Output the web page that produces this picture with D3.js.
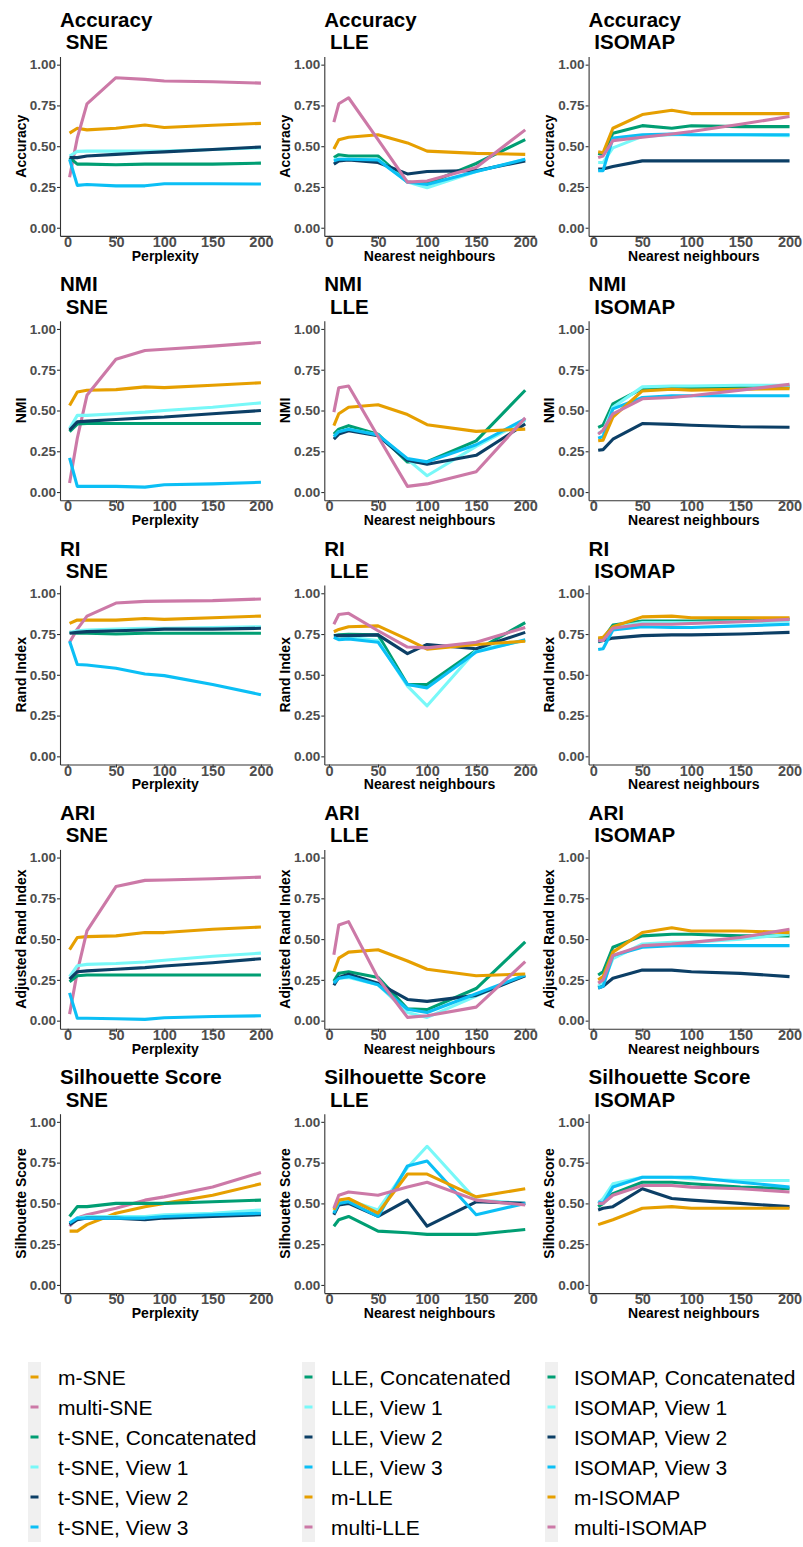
<!DOCTYPE html>
<html>
<head>
<meta charset="utf-8">
<script src="https://cdn.jsdelivr.net/npm/d3@7"></script>
<style>
    body { margin: 0; background: #fff; }
    svg { display: block; font-family: "Liberation Sans", Arial, sans-serif; }
</style>
</head>
<body>
<svg id="chart" width="803" height="1547"></svg>
<script>
// x values
const perplexity = [2, 10, 20, 50, 80, 100, 150, 200];
const neighbours = [5, 10, 20, 50, 80, 100, 150, 200];

// series names, in legend order
const sneSeries = ["m-SNE", "multi-SNE", "t-SNE, Concatenated", "t-SNE, View 1", "t-SNE, View 2", "t-SNE, View 3"];
const lleSeries = ["LLE, Concatenated", "LLE, View 1", "LLE, View 2", "LLE, View 3", "m-LLE", "multi-LLE"];
const isomapSeries = ["ISOMAP, Concatenated", "ISOMAP, View 1", "ISOMAP, View 2", "ISOMAP, View 3", "m-ISOMAP", "multi-ISOMAP"];

const metrics = ["Accuracy", "NMI", "RI", "ARI", "Silhouette Score"];
const yLabels = ["Accuracy", "NMI", "Rand Index", "Adjusted Rand Index", "Silhouette Score"];
const methods = ["SNE", "LLE", "ISOMAP"];
const xLabels = ["Perplexity", "Nearest neighbours", "Nearest neighbours"];
const xTicks = [0, 50, 100, 150, 200];
const yTicks = [0, 0.25, 0.5, 0.75, 1];

// values per series (same order as the series names above)
const accSne = [
    [0.58, 0.61, 0.60, 0.61, 0.63, 0.615, 0.628, 0.64],
    [0.31, 0.55, 0.76, 0.92, 0.91, 0.90, 0.895, 0.887],
    [0.43, 0.39, 0.39, 0.386, 0.39, 0.39, 0.39, 0.396],
    [0.44, 0.468, 0.47, 0.47, 0.47, 0.47, 0.48, 0.49],
    [0.43, 0.43, 0.44, 0.45, 0.46, 0.465, 0.48, 0.495],
    [0.42, 0.26, 0.265, 0.257, 0.257, 0.27, 0.27, 0.268]
];
const accLle = [
    [0.43, 0.448, 0.44, 0.44, 0.28, 0.27, 0.394, 0.54],
    [0.42, 0.42, 0.42, 0.42, 0.28, 0.245, 0.345, 0.42],
    [0.39, 0.41, 0.415, 0.40, 0.33, 0.345, 0.35, 0.41],
    [0.41, 0.42, 0.42, 0.415, 0.28, 0.265, 0.345, 0.42],
    [0.483, 0.54, 0.555, 0.57, 0.52, 0.47, 0.456, 0.45],
    [0.647, 0.76, 0.797, 0.54, 0.28, 0.287, 0.37, 0.60]
];
const accIso = [
    [0.456, 0.45, 0.58, 0.626, 0.61, 0.625, 0.62, 0.62],
    [0.40, 0.40, 0.49, 0.56, 0.57, 0.57, 0.57, 0.565],
    [0.36, 0.36, 0.375, 0.41, 0.41, 0.41, 0.41, 0.41],
    [0.35, 0.35, 0.55, 0.57, 0.575, 0.57, 0.57, 0.57],
    [0.466, 0.46, 0.61, 0.694, 0.72, 0.70, 0.70, 0.70],
    [0.43, 0.44, 0.534, 0.555, 0.575, 0.59, 0.635, 0.682]
];
const nmiSne = [
    [0.53, 0.614, 0.624, 0.628, 0.645, 0.64, 0.655, 0.67],
    [0.056, 0.33, 0.593, 0.814, 0.868, 0.876, 0.895, 0.917],
    [0.37, 0.417, 0.42, 0.42, 0.42, 0.42, 0.42, 0.42],
    [0.39, 0.47, 0.47, 0.48, 0.49, 0.50, 0.52, 0.547],
    [0.38, 0.43, 0.435, 0.445, 0.455, 0.46, 0.48, 0.50],
    [0.21, 0.035, 0.035, 0.035, 0.03, 0.045, 0.05, 0.06]
];
const nmiLle = [
    [0.355, 0.386, 0.407, 0.355, 0.184, 0.186, 0.314, 0.624],
    [0.34, 0.37, 0.385, 0.35, 0.20, 0.10, 0.28, 0.44],
    [0.324, 0.355, 0.376, 0.345, 0.195, 0.17, 0.225, 0.417],
    [0.34, 0.37, 0.385, 0.35, 0.205, 0.185, 0.29, 0.448],
    [0.407, 0.48, 0.52, 0.535, 0.475, 0.413, 0.372, 0.386],
    [0.49, 0.64, 0.65, 0.34, 0.035, 0.05, 0.124, 0.455]
];
const nmiIso = [
    [0.397, 0.41, 0.54, 0.634, 0.64, 0.64, 0.64, 0.645],
    [0.36, 0.37, 0.52, 0.645, 0.65, 0.65, 0.655, 0.655],
    [0.256, 0.26, 0.324, 0.42, 0.415, 0.41, 0.40, 0.397],
    [0.33, 0.34, 0.51, 0.58, 0.59, 0.59, 0.59, 0.59],
    [0.314, 0.318, 0.459, 0.62, 0.63, 0.625, 0.63, 0.634],
    [0.355, 0.38, 0.48, 0.572, 0.58, 0.59, 0.625, 0.66]
];
const riSne = [
    [0.815, 0.836, 0.835, 0.835, 0.845, 0.84, 0.85, 0.86],
    [0.70, 0.78, 0.86, 0.94, 0.95, 0.952, 0.955, 0.965],
    [0.76, 0.755, 0.755, 0.75, 0.755, 0.755, 0.755, 0.755],
    [0.76, 0.77, 0.775, 0.78, 0.785, 0.785, 0.79, 0.795],
    [0.755, 0.76, 0.765, 0.77, 0.775, 0.78, 0.78, 0.785],
    [0.706, 0.563, 0.56, 0.54, 0.505, 0.495, 0.44, 0.378]
];
const riLle = [
    [0.74, 0.745, 0.748, 0.745, 0.44, 0.44, 0.65, 0.82],
    [0.73, 0.72, 0.73, 0.71, 0.43, 0.31, 0.65, 0.71],
    [0.74, 0.74, 0.74, 0.745, 0.63, 0.686, 0.66, 0.76],
    [0.73, 0.715, 0.72, 0.70, 0.44, 0.42, 0.64, 0.715],
    [0.764, 0.778, 0.795, 0.80, 0.717, 0.657, 0.686, 0.706],
    [0.81, 0.87, 0.877, 0.77, 0.67, 0.665, 0.70, 0.79]
];
const riIso = [
    [0.715, 0.72, 0.805, 0.83, 0.83, 0.83, 0.835, 0.84],
    [0.70, 0.71, 0.79, 0.82, 0.82, 0.82, 0.825, 0.83],
    [0.705, 0.71, 0.725, 0.74, 0.745, 0.745, 0.75, 0.76],
    [0.655, 0.66, 0.775, 0.795, 0.79, 0.79, 0.80, 0.81],
    [0.725, 0.73, 0.795, 0.855, 0.86, 0.85, 0.85, 0.85],
    [0.71, 0.71, 0.785, 0.81, 0.81, 0.815, 0.825, 0.84]
];
const ariSne = [
    [0.435, 0.51, 0.515, 0.52, 0.54, 0.54, 0.56, 0.574],
    [0.04, 0.30, 0.55, 0.822, 0.86, 0.862, 0.87, 0.88],
    [0.238, 0.275, 0.28, 0.28, 0.28, 0.28, 0.28, 0.28],
    [0.27, 0.337, 0.345, 0.35, 0.36, 0.37, 0.395, 0.414],
    [0.255, 0.30, 0.305, 0.315, 0.325, 0.335, 0.355, 0.38],
    [0.17, 0.015, 0.015, 0.012, 0.008, 0.018, 0.025, 0.03]
];
const ariLle = [
    [0.242, 0.29, 0.30, 0.265, 0.072, 0.068, 0.197, 0.483],
    [0.23, 0.26, 0.265, 0.22, 0.05, 0.02, 0.15, 0.28],
    [0.217, 0.265, 0.284, 0.23, 0.13, 0.118, 0.155, 0.275],
    [0.23, 0.26, 0.27, 0.22, 0.07, 0.05, 0.165, 0.28],
    [0.30, 0.383, 0.42, 0.435, 0.366, 0.315, 0.275, 0.286],
    [0.404, 0.586, 0.607, 0.26, 0.02, 0.03, 0.083, 0.362]
];
const ariIso = [
    [0.28, 0.30, 0.45, 0.52, 0.53, 0.53, 0.52, 0.52],
    [0.21, 0.23, 0.38, 0.47, 0.48, 0.48, 0.50, 0.53],
    [0.20, 0.21, 0.26, 0.31, 0.31, 0.30, 0.29, 0.27],
    [0.20, 0.21, 0.40, 0.45, 0.46, 0.46, 0.46, 0.46],
    [0.25, 0.27, 0.42, 0.54, 0.57, 0.55, 0.55, 0.54],
    [0.23, 0.25, 0.40, 0.46, 0.47, 0.48, 0.51, 0.56]
];
const silSne = [
    [0.33, 0.33, 0.37, 0.44, 0.48, 0.50, 0.55, 0.62],
    [0.36, 0.41, 0.43, 0.47, 0.52, 0.54, 0.60, 0.69],
    [0.42, 0.48, 0.48, 0.50, 0.50, 0.50, 0.51, 0.52],
    [0.38, 0.41, 0.42, 0.42, 0.42, 0.43, 0.44, 0.46],
    [0.37, 0.40, 0.41, 0.41, 0.40, 0.41, 0.42, 0.43],
    [0.38, 0.41, 0.41, 0.41, 0.41, 0.42, 0.43, 0.44]
];
const silLle = [
    [0.36, 0.40, 0.42, 0.33, 0.32, 0.31, 0.31, 0.34],
    [0.44, 0.50, 0.52, 0.46, 0.72, 0.85, 0.52, 0.50],
    [0.43, 0.49, 0.50, 0.42, 0.52, 0.36, 0.51, 0.50],
    [0.44, 0.50, 0.51, 0.42, 0.73, 0.76, 0.43, 0.50],
    [0.46, 0.52, 0.53, 0.44, 0.68, 0.68, 0.54, 0.59],
    [0.47, 0.55, 0.57, 0.55, 0.60, 0.63, 0.52, 0.49]
];
const silIso = [
    [0.48, 0.50, 0.56, 0.63, 0.63, 0.62, 0.60, 0.59],
    [0.50, 0.53, 0.62, 0.66, 0.66, 0.65, 0.64, 0.64],
    [0.46, 0.47, 0.48, 0.59, 0.53, 0.52, 0.50, 0.48],
    [0.51, 0.50, 0.60, 0.66, 0.66, 0.66, 0.63, 0.60],
    [0.37, 0.38, 0.40, 0.47, 0.48, 0.47, 0.47, 0.47],
    [0.50, 0.50, 0.55, 0.61, 0.61, 0.60, 0.59, 0.57]
];

// colours
const ORANGE = "#E69F00", PINK = "#CC79A7", GREEN = "#009E73";
const CYAN = "#78F8F8", NAVY = "#0C3F66", SKY = "#0BBFF5";
const sneColors = [ORANGE, PINK, GREEN, CYAN, NAVY, SKY];
const otherColors = [GREEN, CYAN, NAVY, SKY, ORANGE, PINK];

// grid of panels: rows = metrics, columns = methods
const panelData = [
    [accSne, accLle, accIso],
    [nmiSne, nmiLle, nmiIso],
    [riSne, riLle, riIso],
    [ariSne, ariLle, ariIso],
    [silSne, silLle, silIso]
];
const xValues = [perplexity, neighbours, neighbours];
const colors = [sneColors, otherColors, otherColors];
const seriesNames = [sneSeries, lleSeries, isomapSeries];

const LAYOUT = {
    colLeft: [60, 324.3, 588.6],
    plotWidth: 210.5,
    firstTop: 56.5,
    rowStep: 264.3,
    plotHeight: 179.4
};

const svg = d3.select("#chart");

function padded(extent) {
    const pad = (extent[1] - extent[0]) * 0.05;
    return [extent[0] - pad, extent[1] + pad];
}

function styleAxis(axisGroup, fontSize) {
    axisGroup.attr("font-family", null).attr("font-size", null);
    axisGroup.select(".domain").attr("stroke", "#333").attr("stroke-width", 1.1);
    axisGroup.selectAll(".tick line").attr("stroke", "#333").attr("stroke-width", 1.1);
    axisGroup.selectAll(".tick text")
        .attr("font-size", fontSize)
        .attr("font-weight", "bold")
        .attr("fill", "#4D4D4D");
}

function drawPanel(row, col) {
    const left = LAYOUT.colLeft[col];
    const top = LAYOUT.firstTop + row * LAYOUT.rowStep;
    const w = LAYOUT.plotWidth, h = LAYOUT.plotHeight;
    const xs = xValues[col];

    const xScale = d3.scaleLinear().domain(padded(d3.extent(xs))).range([0, w]);
    const yScale = d3.scaleLinear().domain(padded([0, 1])).range([h, 0]);

    const g = svg.append("g").attr("transform", `translate(${left},${top})`);

    // title on two lines
    const title = g.append("text")
        .attr("font-size", 20.5)
        .attr("font-weight", "bold")
        .attr("fill", "#000");
    title.append("tspan").attr("x", 0).attr("y", -29.5).text(metrics[row]);
    title.append("tspan").attr("x", 0).attr("y", -7.2)
        .attr("style", "white-space: pre").text(" " + methods[col]);

    // lines
    const line = d3.line()
        .x((d, i) => xScale(xs[i]))
        .y(d => yScale(d));
    g.selectAll(".series")
        .data(panelData[row][col])
        .enter()
        .append("path")
        .attr("class", "series")
        .attr("d", d => line(d))
        .attr("fill", "none")
        .attr("stroke", (d, i) => colors[col][i])
        .attr("stroke-width", 3.1)
        .attr("stroke-linejoin", "round");

    // axes
    const xAxis = g.append("g")
        .attr("transform", `translate(0,${h})`)
        .call(d3.axisBottom(xScale).tickValues(xTicks).tickSize(3).tickPadding(-2).tickSizeOuter(0));
    const yAxis = g.append("g")
        .call(d3.axisLeft(yScale).tickValues(yTicks).tickFormat(d3.format(".2f")).tickSize(3).tickPadding(1).tickSizeOuter(0));
    styleAxis(xAxis, 14.5);
    styleAxis(yAxis, 13.5);

    // axis titles
    g.append("text")
        .attr("x", w / 2)
        .attr("y", h + 24.8)
        .attr("text-anchor", "middle")
        .attr("font-size", 14)
        .attr("font-weight", "bold")
        .text(xLabels[col]);

    g.append("text")
        .attr("transform", `translate(-34.5,${yScale(0.5)}) rotate(-90)`)
        .attr("text-anchor", "middle")
        .attr("font-size", 14)
        .attr("font-weight", "bold")
        .text(yLabels[row]);
}

function drawLegend() {
    const keyX = [28, 302, 545];
    const textX = [58, 331, 574];
    const firstY = 1377, stepY = 30;

    seriesNames.forEach((names, col) => {
        const lg = svg.append("g");
        // grey key background strip
        lg.append("rect")
            .attr("x", keyX[col])
            .attr("y", firstY - stepY / 2)
            .attr("width", 13)
            .attr("height", stepY * names.length)
            .attr("fill", "#F0F0F0");

        names.forEach((name, i) => {
            const cy = firstY + i * stepY;
            lg.append("line")
                .attr("x1", keyX[col] + 2.5)
                .attr("x2", keyX[col] + 10.5)
                .attr("y1", cy)
                .attr("y2", cy)
                .attr("stroke", colors[col][i])
                .attr("stroke-width", 3);
            lg.append("text")
                .attr("x", textX[col])
                .attr("y", cy)
                .attr("dy", "0.36em")
                .attr("font-size", 21)
                .text(name);
        });
    });
}

for (let r = 0; r < metrics.length; r++) {
    for (let c = 0; c < methods.length; c++) {
        drawPanel(r, c);
    }
}
drawLegend();
</script>
</body>
</html>
